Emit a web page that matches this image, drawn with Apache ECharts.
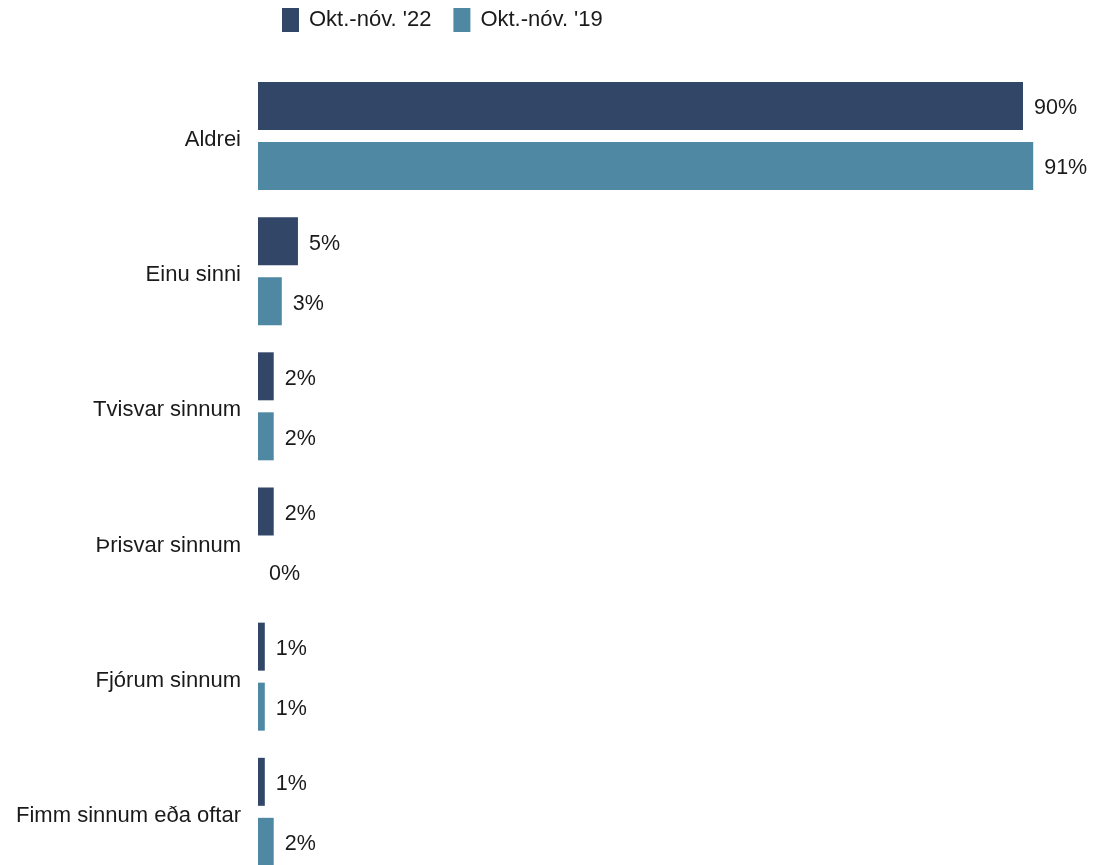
<!DOCTYPE html>
<html>
<head>
<meta charset="utf-8">
<script src="https://cdn.jsdelivr.net/npm/echarts@6/dist/echarts.min.js"></script>
<style>
html,body{margin:0;padding:0;background:#fff;overflow:hidden;}
#chart{width:1095px;height:890px;}
</style>
</head>
<body>
<div id="chart"></div>
<script>
const categories = ['Aldrei', 'Einu sinni', 'Tvisvar sinnum', 'Þrisvar sinnum', 'Fjórum sinnum', 'Fimm sinnum eða oftar'];
const seriesNames = ["Okt.-nóv. '22", "Okt.-nóv. '19"];
const values22 = [90, 4.7, 1.85, 1.85, 0.8, 0.8];
const values19 = [91.2, 2.8, 1.85, 0, 0.8, 1.85];
const colors = ['#324668', '#4e88a2'];

const chart = echarts.init(document.getElementById('chart'));
const font = 'Liberation Sans, Arial, sans-serif';
const labelCfg = {
  show: true,
  position: 'right',
  distance: 11,
  formatter: p => '{v|' + Math.round(p.value) + '%}',
  rich: {
    v: { color: '#1a1a1a', fontSize: 21.5, fontFamily: font, padding: [5, 0, 0, 0] }
  }
};
chart.setOption({
  animation: false,
  legend: {
    top: 8,
    left: 282,
    padding: 0,
    itemWidth: 17,
    itemHeight: 24,
    itemGap: 22,
    icon: 'rect',
    textStyle: { fontSize: 22, fontFamily: font, color: '#1a1a1a', padding: [2, 0, 0, 5] },
    data: seriesNames
  },
  grid: { left: 258, top: 68.4, width: 807.5, height: 811, containLabel: false },
  xAxis: {
    type: 'value', min: 0, max: 95,
    show: false
  },
  yAxis: {
    type: 'category',
    inverse: true,
    data: categories,
    axisLine: { show: false },
    axisTick: { show: false },
    axisLabel: {
      margin: 17,
      formatter: v => '{c|' + v + '}',
      rich: { c: { fontSize: 22, fontFamily: font, color: '#1a1a1a', padding: [8, 0, 0, 0] } }
    }
  },
  series: [
    { name: seriesNames[0], type: 'bar', data: values22, barWidth: 48, barGap: '25%',
      itemStyle: { color: colors[0] }, label: labelCfg },
    { name: seriesNames[1], type: 'bar', data: values19, barWidth: 48, barGap: '25%',
      itemStyle: { color: colors[1] }, label: labelCfg }
  ]
});
</script>
</body>
</html>
